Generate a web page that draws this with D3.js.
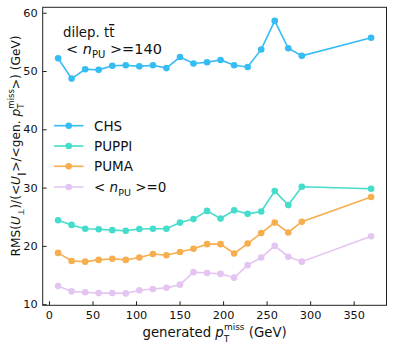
<!DOCTYPE html>
<html><head><meta charset="utf-8">
<script src="https://cdn.jsdelivr.net/npm/d3@7"></script>
<style>
body{margin:0;background:#fff;}
text{font-family:"DejaVu Sans",sans-serif;fill:#111;}
</style></head>
<body><svg id="c" width="395" height="347"></svg>
<script>
const xVals = [10.5,26,41.6,57.1,72.7,88.2,103.8,119.4,134.9,150.5,166,181.6,197.1,212.7,228.2,243.8,259.3,274.9,290.4,370];
const chs   = [52.2,48.7,50.3,50.2,50.9,51.0,50.8,51.0,50.5,52.4,51.3,51.5,51.9,51.0,50.7,53.7,58.6,53.9,52.6,55.7];
const puppi = [24.4,23.6,22.95,22.85,22.7,22.6,22.9,22.95,22.95,24.0,24.6,26.0,24.7,26.1,25.5,25.9,29.4,27.0,30.15,29.8];
const puma  = [18.8,17.4,17.3,17.6,17.8,17.6,18.0,18.6,18.4,18.95,19.5,20.3,20.3,18.7,20.4,22.2,24.0,22.3,24.15,28.4];
const pu0   = [13.1,12.2,12.05,11.9,11.9,11.85,12.4,12.6,12.8,13.35,15.5,15.35,15.2,14.55,16.7,18.0,20.0,18.15,17.3,21.65];
const xTicks = [0,50,100,150,200,250,300,350];
const yTicks = [10,20,30,40,50,60];
const seriesNames = ["CHS","PUPPI","PUMA","npu0"];
const seriesColors = ["#35bcf3","#45dccc","#f6ae4f","#e0bcef"];
const seriesData = [chs,puppi,puma,pu0];

const svg = d3.select("#c");
const L=42.7,R=386.5,T=7.3,B=305.3;
const x = d3.scaleLinear().domain([-7.2,387.7]).range([L,R]);
const y = d3.scaleLinear().domain([9.81,60.93]).range([B,T]);

// series
seriesData.forEach((vals,si)=>{
  const pts = xVals.map((xv,i)=>[xv,vals[i]]);
  const g = svg.append("g").attr("opacity", si===3?0.85:1);
  g.append("path").datum(pts)
    .attr("fill","none").attr("stroke",seriesColors[si]).attr("stroke-width",1.6)
    .attr("d",d3.line().x(d=>x(d[0])).y(d=>y(d[1])));
  g.selectAll("circle").data(pts).enter().append("circle")
    .attr("cx",d=>x(d[0])).attr("cy",d=>y(d[1])).attr("r",3.3)
    .attr("fill",seriesColors[si]);
});

// axes
const xAxis = d3.axisBottom(x).tickValues(xTicks).tickSizeInner(-4).tickSizeOuter(0).tickPadding(6);
const gx = svg.append("g").attr("transform",`translate(0,${B})`).call(xAxis);
const yAxis = d3.axisLeft(y).tickValues(yTicks).tickSizeInner(-4).tickSizeOuter(0).tickPadding(5);
const gy = svg.append("g").attr("transform",`translate(${L},0)`).call(yAxis);
[gx,gy].forEach(g=>{
  g.select(".domain").remove();
  g.selectAll("line").attr("stroke","#222");
  g.selectAll("text").style("font-family","DejaVu Sans").style("font-size","11.3px").attr("fill","#111");
});
svg.append("rect").attr("x",L).attr("y",T).attr("width",R-L).attr("height",B-T)
  .attr("fill","none").attr("stroke","#222").attr("stroke-width",1);

// x label
const xl = svg.append("text").attr("x",(L+R)/2).attr("y",337).attr("text-anchor","middle").style("font-size","13.3px");
xl.append("tspan").text("generated ");
xl.append("tspan").text("p").style("font-style","italic");
xl.append("tspan").text("T").style("font-size","9px").attr("dy",4.5);
xl.append("tspan").text("miss").style("font-size","9px").attr("dx",-5.4).attr("dy",-11.5);
xl.append("tspan").text(" (GeV)").attr("dy",7);

// y label
const yl = svg.append("text").attr("transform","translate(20,146) rotate(-90)").attr("text-anchor","middle").style("font-size","12.2px");
yl.append("tspan").text("RMS(");
yl.append("tspan").text("U").style("font-style","italic");
yl.append("tspan").text("⊥").style("font-size","8.5px").attr("dy",3.5);
yl.append("tspan").text(")/(<").attr("dy",-3.5);
yl.append("tspan").text("U").style("font-style","italic");
yl.append("tspan").text("∥").style("font-size","8.5px").attr("dy",3.5);
yl.append("tspan").text(">/<gen. ").attr("dy",-3.5);
yl.append("tspan").text("p").style("font-style","italic");
yl.append("tspan").text("T").style("font-size","8.5px").attr("dy",4);
yl.append("tspan").text("miss").style("font-size","8.5px").attr("dx",-5.1).attr("dy",-10.5);
yl.append("tspan").text(">) (GeV)").attr("dy",6.5);

// annotation
const a1 = svg.append("text").attr("x",63).attr("y",37).style("font-size","13.3px");
a1.append("tspan").text("dilep. t");
a1.append("tspan").text("t").style("text-decoration","overline");
const a2 = svg.append("text").attr("x",66).attr("y",54).style("font-size","14.5px");
a2.append("tspan").text("< ");
a2.append("tspan").text("n").style("font-style","italic");
a2.append("tspan").text("PU").style("font-size","10px").attr("dy",3.5);
a2.append("tspan").text(" >=140").attr("dy",-3.5);

// legend
const legY = [125.7,146,166.3,187];
seriesNames.forEach((n,i)=>{
  const g = svg.append("g").attr("opacity", i===3?0.85:1);
  g.append("line").attr("x1",54).attr("x2",83.5).attr("y1",legY[i]).attr("y2",legY[i])
    .attr("stroke",seriesColors[i]).attr("stroke-width",1.6);
  g.append("circle").attr("cx",68.7).attr("cy",legY[i]).attr("r",3.3).attr("fill",seriesColors[i]);
  const t = svg.append("text").attr("x",94).attr("y",legY[i]+5).style("font-size","13.5px");
  if(i<3){ t.text(n); }
  else {
    t.append("tspan").text("< ");
    t.append("tspan").text("n").style("font-style","italic");
    t.append("tspan").text("PU").style("font-size","9.5px").attr("dy",3.5);
    t.append("tspan").text(" >=0").attr("dy",-3.5);
  }
});
</script></body></html>
